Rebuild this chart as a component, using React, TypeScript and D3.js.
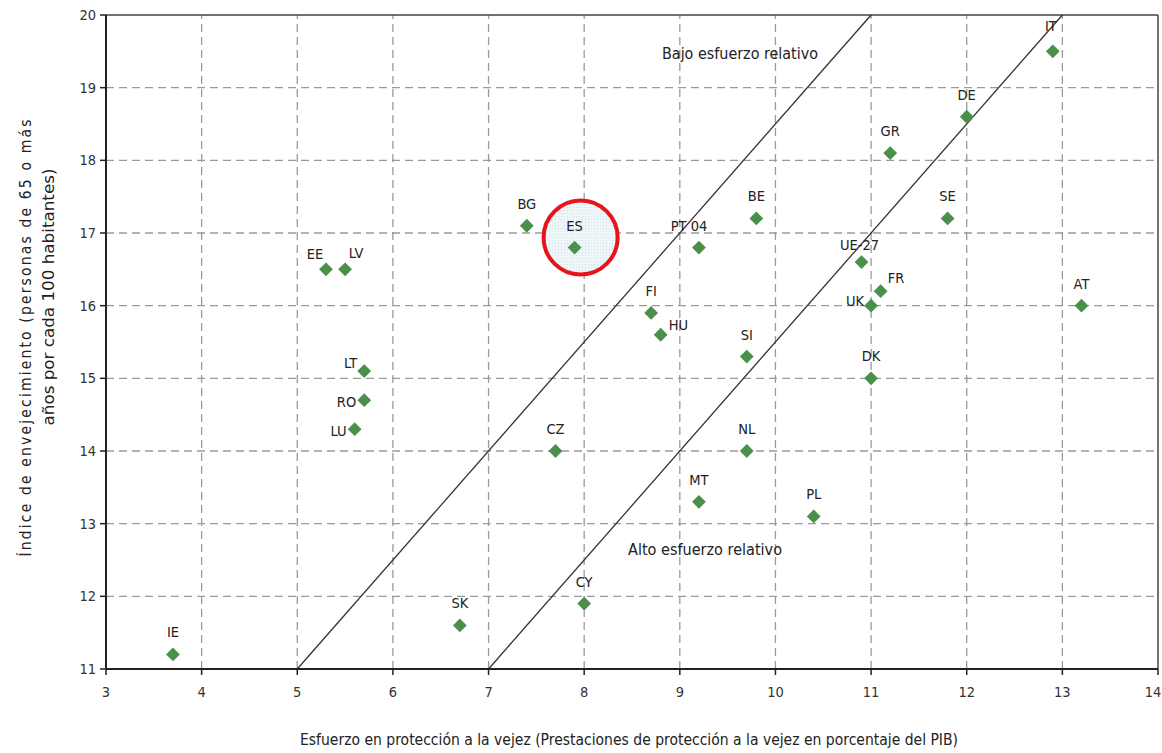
import React from "react";
import * as d3 from "d3";

const countries = ["IE","SK","CY","EE","LV","LT","RO","LU","BG","ES","CZ","PT 04","BE","FI","HU","SI","NL","MT","PL","GR","DE","IT","SE","UE-27","FR","UK","DK","AT"];
const effort = [3.7,6.7,8.0,5.3,5.5,5.7,5.7,5.6,7.4,7.9,7.7,9.2,9.8,8.7,8.8,9.7,9.7,9.2,10.4,11.2,12.0,12.9,11.8,10.9,11.1,11.0,11.0,13.2];
const ageing = [11.2,11.6,11.9,16.5,16.5,15.1,14.7,14.3,17.1,16.8,14.0,16.8,17.2,15.9,15.6,15.3,14.0,13.3,13.1,18.1,18.6,19.5,17.2,16.6,16.2,16.0,15.0,16.0];
const xTicks = [3,4,5,6,7,8,9,10,11,12,13,14];
const yTicks = [11,12,13,14,15,16,17,18,19,20];
const refLines = [
  { x1: 5, y1: 11, x2: 11, y2: 20 },
  { x1: 7, y1: 11, x2: 13, y2: 20 },
];
const highlighted = "ES";

const W = 1162, H = 753;
const FONT = "'Liberation Sans Narrow', 'DejaVu Sans Condensed', 'Roboto Condensed', 'Liberation Sans', sans-serif";

const labelStyle: Record<string, { dx: number; dy: number; anchor: string }> = {
  EE: { dx: -11, dy: -10, anchor: "middle" },
  LV: { dx: 11, dy: -11, anchor: "middle" },
  LT: { dx: -7, dy: -3, anchor: "end" },
  RO: { dx: -8, dy: 7, anchor: "end" },
  LU: { dx: -8, dy: 7, anchor: "end" },
  HU: { dx: 8, dy: -5, anchor: "start" },
  FR: { dx: 7, dy: -8, anchor: "start" },
  UK: { dx: -7, dy: 0, anchor: "end" },
  "UE-27": { dx: -2, dy: -12, anchor: "middle" },
  "PT 04": { dx: -10, dy: -17, anchor: "middle" },
  IT: { dx: -2, dy: -20, anchor: "middle" },
};

export default function App() {
  const x = d3.scaleLinear().domain([3, 14]).range([106, 1158]);
  const y = d3.scaleLinear().domain([11, 20]).range([669, 15]);
  const diamond = d3.symbol().type(d3.symbolSquare).size(95)() as string;
  const hi = countries.indexOf(highlighted);

  return (
    <svg width={W} height={H} style={{ position: "absolute", left: 0, top: 0, background: "#fff" }} fontFamily={FONT}>
      <defs>
        <pattern id="dots" width="3" height="3" patternUnits="userSpaceOnUse">
          <rect width="3" height="3" fill="#eef6f8" />
          <rect width="1" height="1" fill="#cfe3ea" />
        </pattern>
      </defs>
      {xTicks.slice(1, -1).map((t) => (
        <line key={"gx" + t} x1={x(t)} x2={x(t)} y1={y(11)} y2={y(20)} stroke="#9a9a9a" strokeWidth={1.3} strokeDasharray="8,5" />
      ))}
      {yTicks.slice(1, -1).map((t) => (
        <line key={"gy" + t} x1={x(3)} x2={x(14)} y1={y(t)} y2={y(t)} stroke="#9a9a9a" strokeWidth={1.3} strokeDasharray="8,5" />
      ))}
      <circle cx={x(effort[hi]) + 6} cy={y(ageing[hi]) - 10} r={37} fill="url(#dots)" />
      <line x1={x(3)} x2={x(14)} y1={y(20)} y2={y(20)} stroke="#444" strokeWidth={1.5} />
      <line x1={x(14)} x2={x(14)} y1={y(20)} y2={y(11)} stroke="#444" strokeWidth={1.5} />
      {refLines.map((l, i) => (
        <line key={"r" + i} x1={x(l.x1)} y1={y(l.y1)} x2={x(l.x2)} y2={y(l.y2)} stroke="#333" strokeWidth={1.3} />
      ))}
      <line x1={x(3)} x2={x(3)} y1={y(20)} y2={y(11)} stroke="#222" strokeWidth={2} />
      <line x1={x(3)} x2={x(14)} y1={y(11)} y2={y(11)} stroke="#222" strokeWidth={2} />
      {xTicks.map((t) => (
        <g key={"xt" + t}>
          <line x1={x(t)} x2={x(t)} y1={y(11)} y2={y(11) + 6} stroke="#222" strokeWidth={1.5} />
          <text x={Math.min(x(t), W - 9)} y={y(11) + 28} textAnchor="middle" fontSize={14.5} fill="#333">{t}</text>
        </g>
      ))}
      {yTicks.map((t) => (
        <g key={"yt" + t}>
          <line x1={x(3) - 6} x2={x(3)} y1={y(t)} y2={y(t)} stroke="#222" strokeWidth={1.5} />
          <text x={x(3) - 10} y={y(t) + 5} textAnchor="end" fontSize={14.5} fill="#333">{t}</text>
        </g>
      ))}
      {countries.map((c, i) => {
        const px = x(effort[i]);
        const py = y(ageing[i]);
        const s = labelStyle[c] || { dx: 0, dy: -17, anchor: "middle" };
        return (
          <g key={c}>
            <path d={diamond} transform={`translate(${px},${py}) rotate(45)`} fill="#4a8f4a" />
            <text x={px + s.dx} y={py + s.dy} textAnchor={s.anchor as any} fontSize={14.5} fill="#222">{c}</text>
          </g>
        );
      })}
      <circle cx={x(effort[hi]) + 6} cy={y(ageing[hi]) - 10} r={37} fill="none" stroke="#e8141c" strokeWidth={4} />
      <text x={740} y={59} textAnchor="middle" fontSize={15.5} textLength={156} lengthAdjust="spacingAndGlyphs" fill="#222">Bajo esfuerzo relativo</text>
      <text x={705} y={555} textAnchor="middle" fontSize={15.5} textLength={154} lengthAdjust="spacingAndGlyphs" fill="#222">Alto esfuerzo relativo</text>
      <text x={629} y={745} textAnchor="middle" fontSize={15.5} textLength={658} lengthAdjust="spacingAndGlyphs" fill="#222">Esfuerzo en protección a la vejez (Prestaciones de protección a la vejez en porcentaje del PIB)</text>
      <text transform="translate(31,338) rotate(-90)" textAnchor="middle" fontSize={15.5} textLength={437} lengthAdjust="spacing" fill="#222">Índice de envejecimiento (personas de 65 o más</text>
      <text transform="translate(54,297) rotate(-90)" textAnchor="middle" fontSize={15.5} textLength={257} lengthAdjust="spacingAndGlyphs" fill="#222">años por cada 100 habitantes)</text>
    </svg>
  );
}
